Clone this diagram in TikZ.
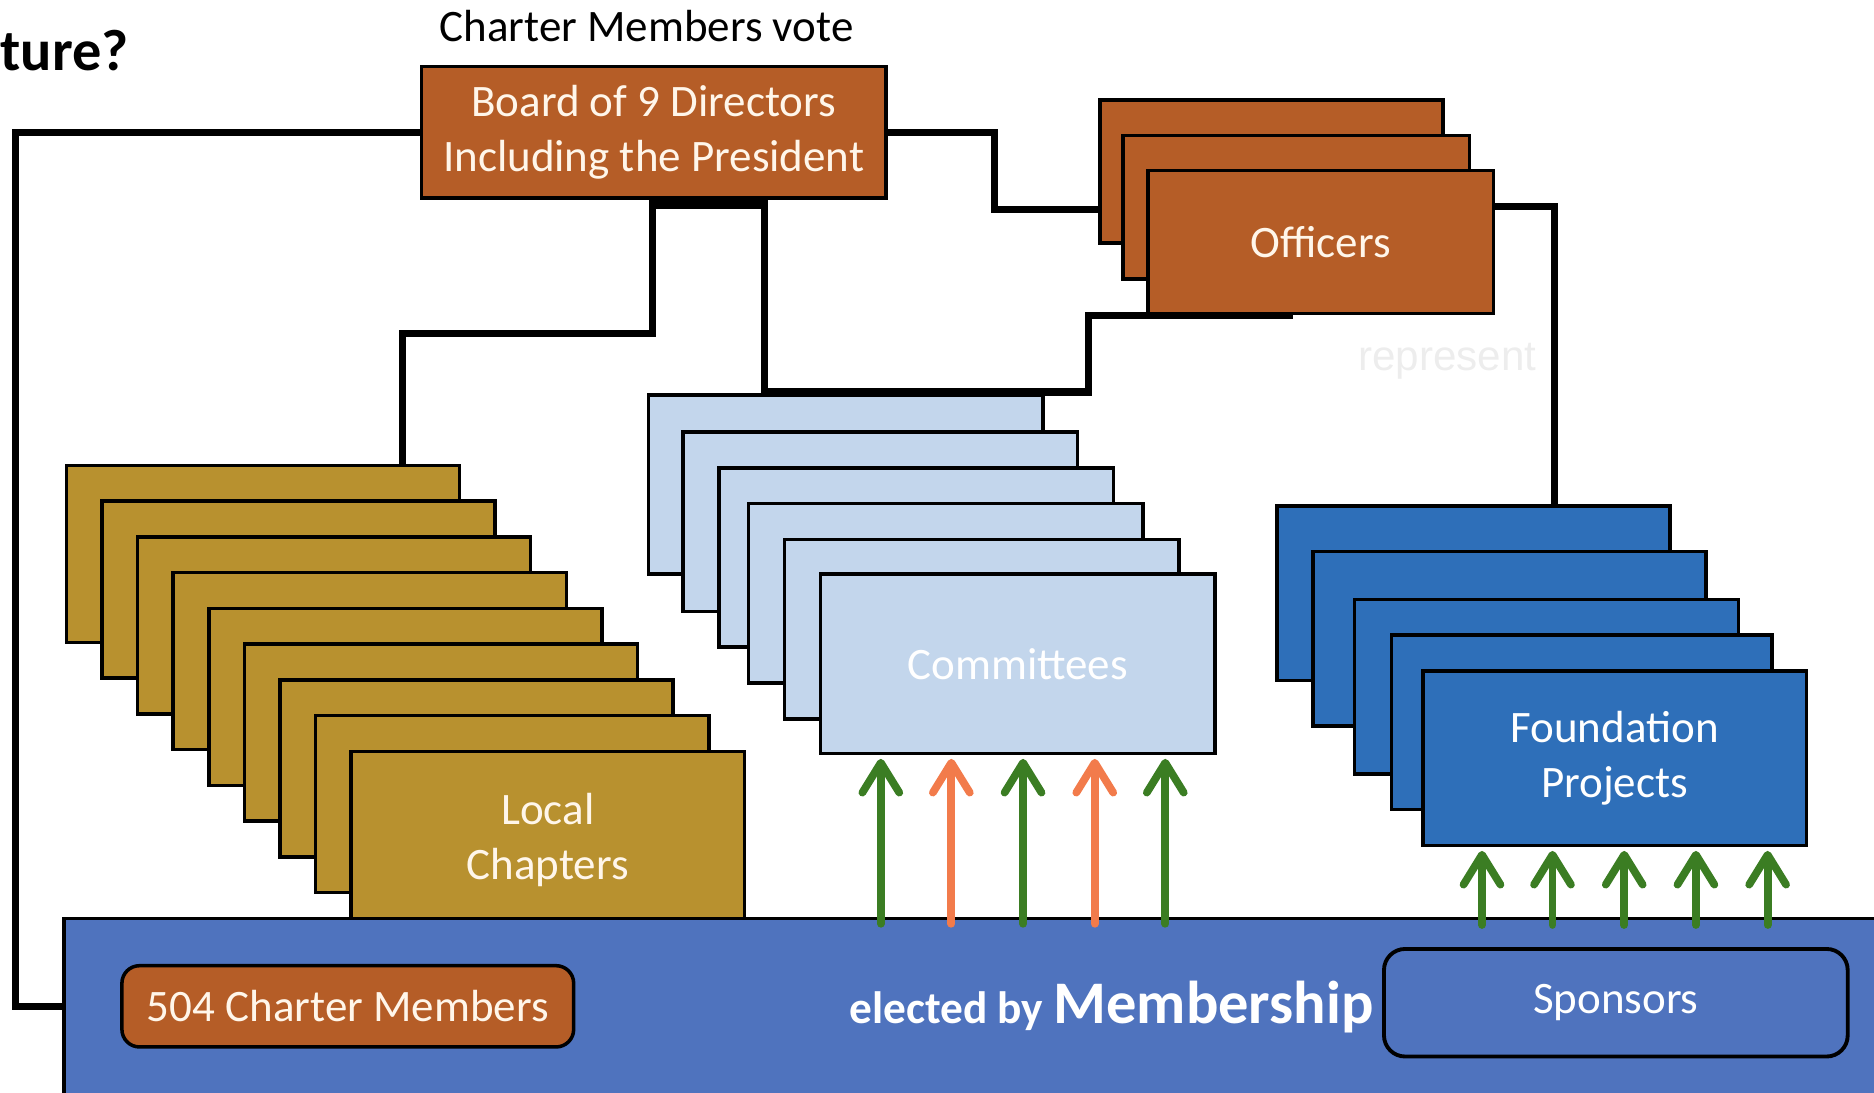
\documentclass[tikz,border=0pt]{standalone}
\usepackage{fontspec}
\setmainfont{Carlito}
\newfontfamily\repfont{Liberation Sans}
\usetikzlibrary{calc,arrows.meta}

\definecolor{boardbrown}{HTML}{B55D27}
\definecolor{chapgold}{HTML}{B8912F}
\definecolor{commblue}{HTML}{C3D6EC}
\definecolor{foundblue}{HTML}{2E6FB9}
\definecolor{memberblue}{HTML}{4F73BE}
\definecolor{votegreen}{HTML}{3B7D23}
\definecolor{voteorange}{HTML}{F27B4B}
\definecolor{cream}{HTML}{FFF6EA}

\def\pix{0.011952cm} % ein Bildpunkt der Vorlage

\tikzset{
	stack/.style={draw=black, line width=1pt, inner sep=0pt, anchor=north west,
		text=cream, align=center, font=\fontsize{12.8}{15.6}\selectfont},
	link/.style={line width=2pt},
	vote/.style={line width=2.2pt, line cap=round,
		-{Straight Barb[length=8.5pt,width=10.5pt,round]}},
}

\begin{document}
\begin{tikzpicture}[x=0.011952cm, y=-0.011952cm]
	
	\useasboundingbox (0,0) rectangle (1568,914);
	\clip (0,0) rectangle (1568,914);
	
	%--- Titel ---
	\node[anchor=west, inner sep=0pt, font=\bfseries\fontsize{16.6}{20}\selectfont] (title) at (0,42) {ture?};
	\node[inner sep=0pt, font=\fontsize{12.8}{15.6}\selectfont] (vote) at (541,22) {Charter Members vote};
	
	%--- Board ---
	\node[stack, fill=boardbrown, minimum width=389*\pix, minimum height=110*\pix] (board) at (351,54)
		{Board of 9 Directors\\Including the President};
	
	%--- Officers ---
	\foreach \x/\y/\w [count=\i] in {919/82/287, 938/112/290, 959/141/289}
		\node[stack, fill=boardbrown, minimum width=\w*\pix, minimum height=120*\pix] (off\i) at (\x,\y) {};
	\node[text=cream, font=\fontsize{12.8}{15.6}\selectfont] at (off3.center) {Officers};
	
	%--- Local Chapters ---
	\foreach \i in {0,...,8}
		\node[stack, fill=chapgold, minimum width=329*\pix, minimum height=148*\pix] (chap\i) at (54+29.8*\i,388+29.9*\i) {};
	\node[text=cream, align=center, font=\fontsize{12.8}{15.6}\selectfont] at (chap8.center) {Local\\Chapters};
	
	%--- Committees ---
	\foreach \x/\y [count=\i from 0] in {541/329, 570/360, 600/390, 625/420, 655/450, 685/479}
		\node[stack, fill=commblue, minimum width=330*\pix, minimum height=150*\pix] (comm\i) at (\x,\y) {};
	\node[text=white, font=\fontsize{12.8}{15.6}\selectfont] at (comm5.center) {Committees};
	
	%--- Foundation Projects ---
	\foreach \x/\y/\w [count=\i from 0] in {1067/422/329, 1097/460/329, 1132/500/321, 1163/530/318, 1189/560/321}
		\node[stack, fill=foundblue, minimum width=\w*\pix, minimum height=146*\pix] (found\i) at (\x,\y) {};
	\node[text=white, align=center, font=\fontsize{12.8}{15.6}\selectfont] at (found4.center) {Foundation\\Projects};
	
	%--- Membership ---
	\node[stack, fill=memberblue, minimum width=1540*\pix, minimum height=170*\pix] (member) at (52,767) {};
	\node[draw=black, line width=1pt, rounded corners=5pt, fill=boardbrown, text=cream,
		minimum width=378*\pix, minimum height=68*\pix, font=\fontsize{12.8}{15.6}\selectfont] (charter) at (291,842) {504 Charter Members};
	\node[text=white, font=\bfseries\fontsize{12.9}{15.6}\selectfont] (elect) at (930,843)
		{elected by {\fontsize{17.2}{20}\selectfont Membership}};
	\node[draw=black, line width=1.1pt, rounded corners=6pt, text=white,
		minimum width=388*\pix, minimum height=90*\pix, font=\fontsize{12.8}{15.6}\selectfont] (sponsor) at (1352,839) {Sponsors};
	
	\node[text=black!7, font=\repfont\fontsize{12}{14}\selectfont] (repr) at (1211,302) {represent};
	
	%--- Verbindungen ---
	\draw[link] (board.west) -- ++(-338,0) |- ($(member.north west)+(0,75)$);
	\draw[link] (board.east) -- ++(89,0) |- ($(off1.south west)+(0,-30)$);
	\draw[link] ($(off3.north east)+(0,32)$) -| ($(found0.north west)+(234,0)$);
	\draw[link] ($(board.south west)+(195,0)$) -- ++(0,112) -| ($(chap0.north west)+(283,0)$);
	\draw[link] ($(board.south west)+(289,0)$) |- ($(comm0.north east)+(37,-1)$) |- ($(off3.south west)+(123,0)$);
	\draw[line width=2.6pt] ($(board.south west)+(193,4)$) -- ($(board.south west)+(291,4)$);
	
	%--- Pfeile ---
	\foreach \dx/\col in {52/votegreen, 111/voteorange, 171/votegreen, 231/voteorange, 290/votegreen}
		\draw[vote, color=\col] ($(comm5.south west)+(\dx,141)$) -- ($(comm5.south west)+(\dx,3)$);
	\foreach \dx in {51,110,170,230,290}
		\draw[vote, color=votegreen] ($(found4.south west)+(\dx,65)$) -- ($(found4.south west)+(\dx,3)$);
	
\end{tikzpicture}
\end{document}
